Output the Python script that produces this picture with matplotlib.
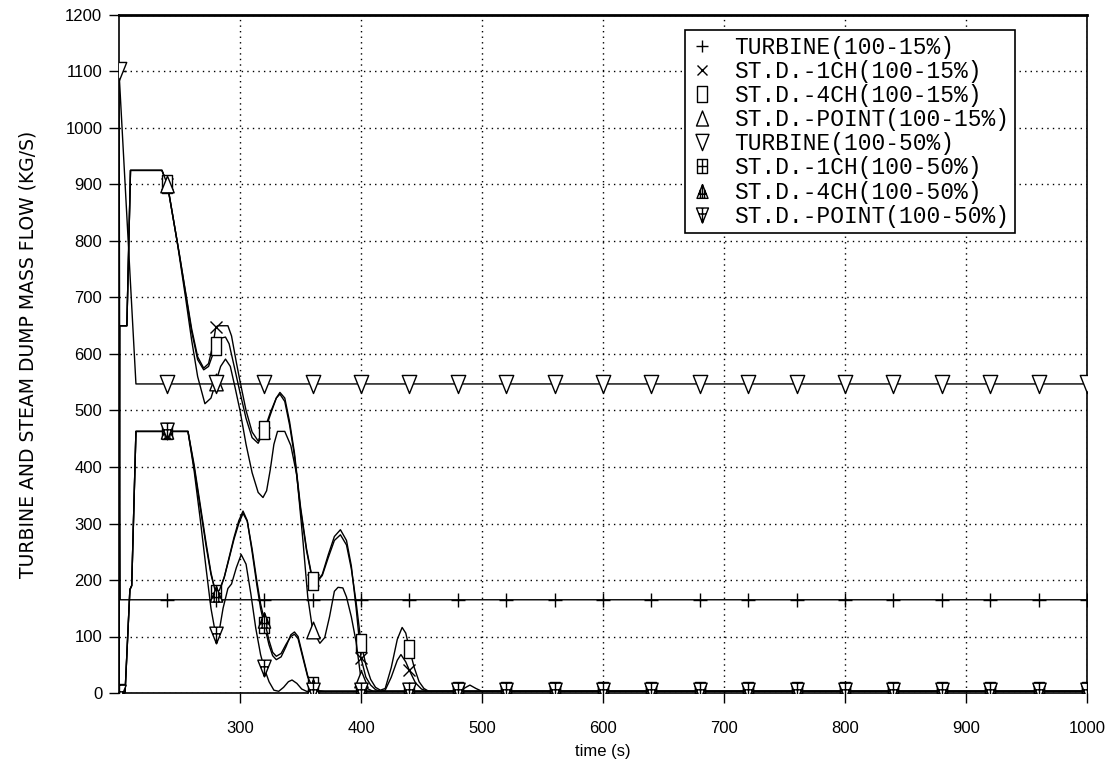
import numpy as np
import matplotlib.pyplot as plt
from matplotlib.path import Path
from matplotlib.lines import Line2D

# times (s) and mass flows (kg/s)
marker_t = np.arange(200, 1001, 40)

tail_t = [480, 520, 560, 600, 640, 680, 720, 760, 800, 840, 880, 920, 960, 1000]
tail_v = [3, 3, 3, 3, 3, 3, 3, 3, 3, 3, 3, 3, 3, 3]

# TURBINE(100-15%)
t_turb15 = [200, 201, 240, 280, 320, 360, 400, 440] + tail_t
v_turb15 = [1100, 165, 165, 165, 165, 165, 165, 165,
            165, 165, 165, 165, 165, 165, 165, 165, 165, 165, 165, 165, 165, 165]

# TURBINE(100-50%)
t_turb50 = [200, 214, 240, 280, 320, 360, 400, 440] + tail_t
v_turb50 = [1100, 547, 547, 547, 547, 547, 547, 547,
            547, 547, 547, 547, 547, 547, 547, 547, 547, 547, 547, 547, 547, 547]

# ST.D.-1CH(100-15%)
t_1ch15 = [200, 200.5, 206.5, 209.5, 235.5, 240, 250, 260, 265, 270, 274, 278, 280, 282,
           290, 293, 297, 300, 305, 310, 315, 320, 325, 330, 333, 337, 341, 345, 350,
           355, 360, 363, 368, 373, 378, 383, 388, 392, 396, 400, 404, 408, 412, 416,
           420, 425, 430, 433, 437, 440, 445, 450, 455, 460] + tail_t
v_1ch15 = [0, 650, 650, 925, 925, 900, 775, 645, 595, 575, 583, 620, 648, 650,
           650, 632, 585, 552, 500, 462, 446, 460, 492, 522, 532, 522, 480, 425, 330,
           255, 200, 196, 210, 245, 277, 289, 270, 225, 150, 62, 28, 14, 6, 3,
           5, 28, 58, 68, 55, 40, 18, 7, 3, 3] + tail_v

# ST.D.-4CH(100-15%)
t_4ch15 = [200, 200.5, 206.5, 209.5, 235.5, 240, 250, 260, 265, 270, 274, 277, 280, 284,
           288, 291, 295, 300, 305, 310, 315, 320, 325, 330, 333, 337, 341, 345, 350,
           355, 360, 363, 368, 373, 378, 383, 388, 392, 396, 400, 404, 408, 412, 416,
           420, 425, 430, 434, 437, 440, 444, 448, 452, 456, 460] + tail_t
v_4ch15 = [0, 650, 650, 925, 925, 900, 775, 640, 590, 572, 578, 596, 615, 628,
           630, 618, 580, 532, 486, 452, 442, 465, 496, 522, 529, 516, 474, 420, 325,
           252, 198, 195, 208, 240, 270, 280, 262, 220, 160, 89, 50, 24, 10, 5,
           8, 45, 95, 116, 106, 78, 45, 20, 8, 3, 3] + tail_v

# ST.D.-POINT(100-15%)
t_pt15 = [200, 200.5, 206.5, 209.5, 235.5, 240, 248, 255, 260, 265, 271, 276, 280, 284,
          288, 292, 296, 300, 305, 310, 315, 319, 322, 325, 328, 331, 337, 342, 347,
          352, 356, 360, 366, 370, 374, 378, 381, 385, 388, 392, 396, 400, 405, 410,
          420, 440, 460, 480, 485, 490, 495, 500] + tail_t[1:]
v_pt15 = [0, 650, 650, 925, 925, 900, 800, 700, 625, 560, 512, 522, 550, 578,
          591, 578, 540, 500, 440, 390, 355, 346, 358, 395, 440, 463, 463, 438, 385,
          270, 170, 112, 88, 98, 135, 180, 187, 186, 170, 135, 90, 25, 8, 3,
          3, 3, 3, 3, 8, 14, 8, 3] + tail_v[1:]

# ST.D.-1CH(100-50%)
t_1ch50 = [200, 205, 209, 210.5, 214, 240, 257, 262, 267, 272, 276, 280, 283, 287,
           291, 295, 299, 302.5, 306, 310, 314, 317, 320, 324, 327, 330, 334, 338,
           342, 345, 348, 352, 356, 360, 365, 370, 400, 440] + tail_t
v_1ch50 = [0, 0, 183, 190, 463, 463, 463, 400, 330, 260, 210, 177, 180, 205,
           240, 275, 305, 322, 305, 250, 190, 150, 121, 85, 66, 59, 64, 82,
           103, 108, 100, 65, 30, 14, 4, 3, 3, 3] + tail_v

# ST.D.-4CH(100-50%)
t_4ch50 = t_1ch50
v_4ch50 = [0, 0, 183, 190, 463, 463, 463, 405, 335, 265, 213, 176, 182, 205,
           238, 272, 300, 318, 304, 255, 197, 158, 130, 93, 72, 65, 70, 86,
           100, 104, 96, 62, 28, 10, 3, 3, 3, 3] + tail_v

# ST.D.-POINT(100-50%)
t_pt50 = [200, 205, 209, 210.5, 214, 240, 257, 262, 267, 272, 276, 280, 283, 286,
          290, 293, 297, 301, 305, 309, 313, 317, 320, 324, 328, 332, 336, 340,
          343, 347, 351, 355, 360, 400, 440] + tail_t
v_pt50 = [0, 0, 183, 190, 463, 463, 463, 395, 310, 220, 150, 102, 112, 150,
          185, 193, 222, 245, 228, 175, 115, 68, 44, 20, 5, 3, 10, 20,
          23, 17, 7, 3, 3, 3, 3] + tail_v

labels = ['TURBINE(100-15%)', 'ST.D.-1CH(100-15%)', 'ST.D.-4CH(100-15%)',
          'ST.D.-POINT(100-15%)', 'TURBINE(100-50%)', 'ST.D.-1CH(100-50%)',
          'ST.D.-4CH(100-50%)', 'ST.D.-POINT(100-50%)']

# marker shapes
M, L, C = Path.MOVETO, Path.LINETO, Path.CLOSEPOLY
rect = Path([(-0.3, -0.5), (0.3, -0.5), (0.3, 0.5), (-0.3, 0.5), (0, 0)], [M, L, L, L, C])
tri_up = Path([(-0.4, -0.5), (0.4, -0.5), (0, 0.5), (0, 0)], [M, L, L, C])
tri_dn = Path([(-0.4, 0.5), (0.4, 0.5), (0, -0.5), (0, 0)], [M, L, L, C])
rect_plus = Path([(-0.35, -0.5), (0.35, -0.5), (0.35, 0.5), (-0.35, 0.5), (0, 0),
                  (0, -0.5), (0, 0.5), (-0.35, 0), (0.35, 0)],
                 [M, L, L, L, C, M, L, M, L])
tri_up_h = Path([(-0.4, -0.5), (0.4, -0.5), (0, 0.5), (0, 0),
                 (-0.15, -0.5), (-0.15, 0.125), (0, -0.5), (0, 0.5),
                 (0.15, -0.5), (0.15, 0.125), (-0.3, -0.2), (0.3, -0.2)],
                [M, L, L, C, M, L, M, L, M, L, M, L])
tri_dn_h = Path([(-0.4, 0.5), (0.4, 0.5), (0, -0.5), (0, 0),
                 (0, 0.5), (0, -0.5), (-0.24, 0.1), (0.24, 0.1)],
                [M, L, L, C, M, L, M, L])

styles = [('+', 10), ('x', 8), (rect, 13), (tri_up, 12),
          (tri_dn, 13), (rect_plus, 11), (tri_up_h, 11), (tri_dn_h, 12)]

series = [(t_turb15, v_turb15), (t_1ch15, v_1ch15), (t_4ch15, v_4ch15), (t_pt15, v_pt15),
          (t_turb50, v_turb50), (t_1ch50, v_1ch50), (t_4ch50, v_4ch50), (t_pt50, v_pt50)]

plt.rcParams['font.family'] = ['Liberation Sans']

fig = plt.figure(figsize=(11.13, 7.65), dpi=100)
ax = fig.add_axes([119 / 1113, 1 - 693 / 765, (1087 - 119) / 1113, (693 - 15) / 765])

handles = []
for (t, v), (mk, ms), lab in zip(series, styles, labels):
    t = np.asarray(t, dtype=float)
    mask = np.isin(t, marker_t)
    ax.plot(t, v, color='black', lw=1.0, marker=mk, ms=ms, markevery=mask,
            mfc='white', mec='black', mew=1.0, zorder=3)
    handles.append(Line2D([], [], ls='none', marker=mk, ms=ms * 0.9,
                          mfc='white', mec='black', mew=1.0))

ax.set_xlim(200, 1000)
ax.set_ylim(0, 1200)
ax.set_xticks(np.arange(300, 1001, 100))
ax.set_yticks(np.arange(0, 1201, 100))
ax.tick_params(axis='both', direction='out', length=7, width=1, labelsize=12)
ax.tick_params(axis='x', pad=13)
ax.tick_params(axis='y', pad=5)
ax.grid(True, color='black', ls=(0, (1, 3)), lw=1.0)
for s in ['left', 'right', 'bottom']:
    ax.spines[s].set_linewidth(1.2)
ax.spines['top'].set_linewidth(2.0)

ax.set_xlabel('time (s)', fontsize=12, labelpad=6)
ax.set_ylabel('TURBINE AND STEAM DUMP MASS FLOW (KG/S)', fontsize=13.5,
              family='DejaVu Sans', labelpad=20)

leg = fig.legend(handles, labels, loc='upper left',
                 bbox_to_anchor=(685 / 1113, 1 - 30 / 765), borderaxespad=0,
                 prop={'family': 'Liberation Mono', 'size': 16.5},
                 frameon=True, fancybox=False, edgecolor='black', framealpha=1,
                 handlelength=1.0, handletextpad=0.9, labelspacing=0.05,
                 borderpad=0.25)
leg.get_frame().set_linewidth(1.2)

fig.savefig('out.png', dpi=100)
